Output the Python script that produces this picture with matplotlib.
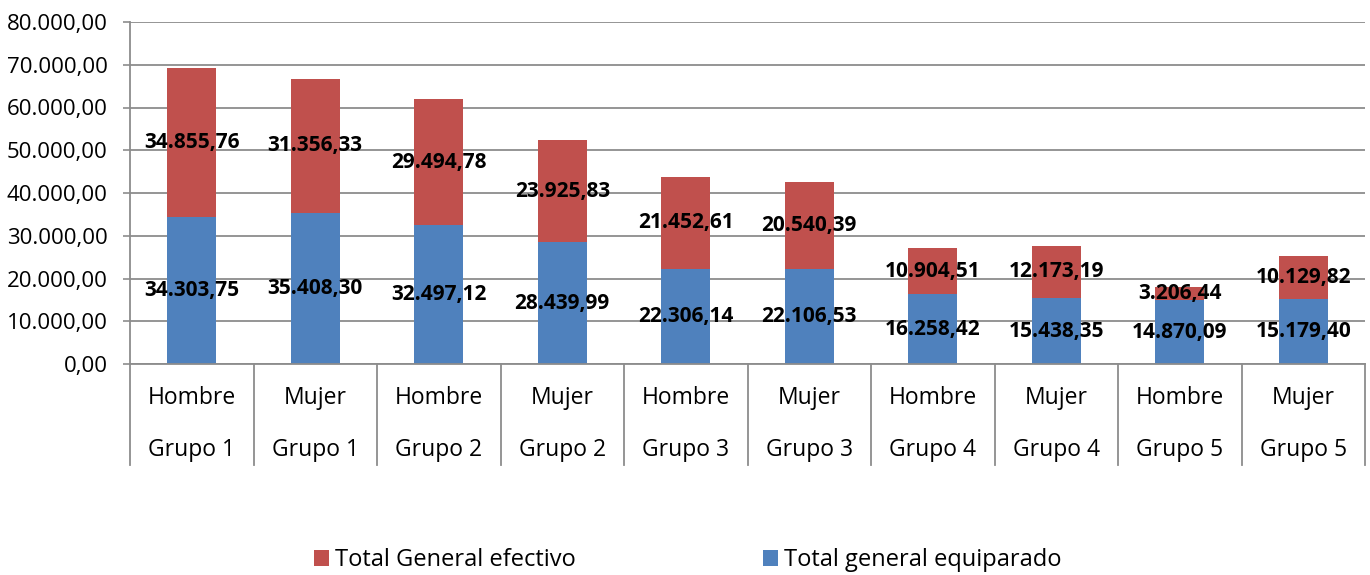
import matplotlib
matplotlib.use("Agg")
import matplotlib.pyplot as plt
from matplotlib.patches import Patch
from matplotlib.transforms import blended_transform_factory

plt.rcParams["font.family"] = ["Open Sans", "DejaVu Sans"]

sexos = ["Hombre", "Mujer", "Hombre", "Mujer", "Hombre", "Mujer", "Hombre", "Mujer", "Hombre", "Mujer"]
grupos = ["Grupo 1", "Grupo 1", "Grupo 2", "Grupo 2", "Grupo 3", "Grupo 3", "Grupo 4", "Grupo 4", "Grupo 5", "Grupo 5"]
equiparado = [34303.75, 35408.30, 32497.12, 28439.99, 22306.14, 22106.53, 16258.42, 15438.35, 14870.09, 15179.40]
efectivo = [34855.76, 31356.33, 29494.78, 23925.83, 21452.61, 20540.39, 10904.51, 12173.19, 3206.44, 10129.82]
y_ticks = [0, 10000, 20000, 30000, 40000, 50000, 60000, 70000, 80000]

BLUE = "#4F81BD"
RED = "#C0504D"
GRID = "#8c8c8c"


def fmt_es(value):
    s = f"{value:,.2f}"
    return s.replace(",", "X").replace(".", ",").replace("X", ".")


fig = plt.figure(figsize=(13.7, 5.75), dpi=100)
ax = fig.add_axes([130 / 1370, 1 - 364 / 575, 1235 / 1370, 342 / 575])

x = list(range(len(sexos)))
ax.bar(x, equiparado, width=0.4, color=BLUE, zorder=3)
ax.bar(x, efectivo, width=0.4, bottom=equiparado, color=RED, zorder=3)

for i in x:
    ax.text(i, equiparado[i] / 2, fmt_es(equiparado[i]), ha="center", va="center",
            fontsize=15, fontweight="bold", zorder=5)
    ax.text(i, equiparado[i] + efectivo[i] / 2, fmt_es(efectivo[i]), ha="center", va="center",
            fontsize=15, fontweight="bold", zorder=5)

ax.set_xlim(-0.5, len(sexos) - 0.5)
ax.set_ylim(0, 80000)
ax.set_yticks(y_ticks)
ax.set_yticklabels([fmt_es(v) for v in y_ticks], fontsize=16)
ax.tick_params(axis="y", length=5, width=1.2, color=GRID, pad=11)
ax.set_xticks([])
ax.yaxis.grid(True, color=GRID, linewidth=1.3, zorder=0)
ax.set_axisbelow(True)

for side in ["top", "right"]:
    ax.spines[side].set_visible(False)
for side in ["left", "bottom"]:
    ax.spines[side].set_color(GRID)
    ax.spines[side].set_linewidth(1.3)
ax.spines["bottom"].set_zorder(4)

# category axis: separators and two rows of labels
trans = blended_transform_factory(ax.transData, ax.transAxes)
for b in range(len(sexos) + 1):
    ax.plot([b - 0.5, b - 0.5], [0, -0.295], transform=trans, color=GRID,
            linewidth=1.3, clip_on=False)
for i in x:
    ax.text(i, -0.099, sexos[i], transform=trans, ha="center", va="center", fontsize=16.5)
    ax.text(i, -0.251, grupos[i], transform=trans, ha="center", va="center", fontsize=16.5)

handles = [Patch(facecolor=RED, label="Total General efectivo"),
           Patch(facecolor=BLUE, label="Total general equiparado")]
fig.legend(handles=handles, loc="center", bbox_to_anchor=(0.502, 0.026), ncol=2,
           frameon=False, fontsize=17, handlelength=0.64, handleheight=0.64,
           handletextpad=0.25, columnspacing=7.9)

fig.savefig("out.png", dpi=100)
